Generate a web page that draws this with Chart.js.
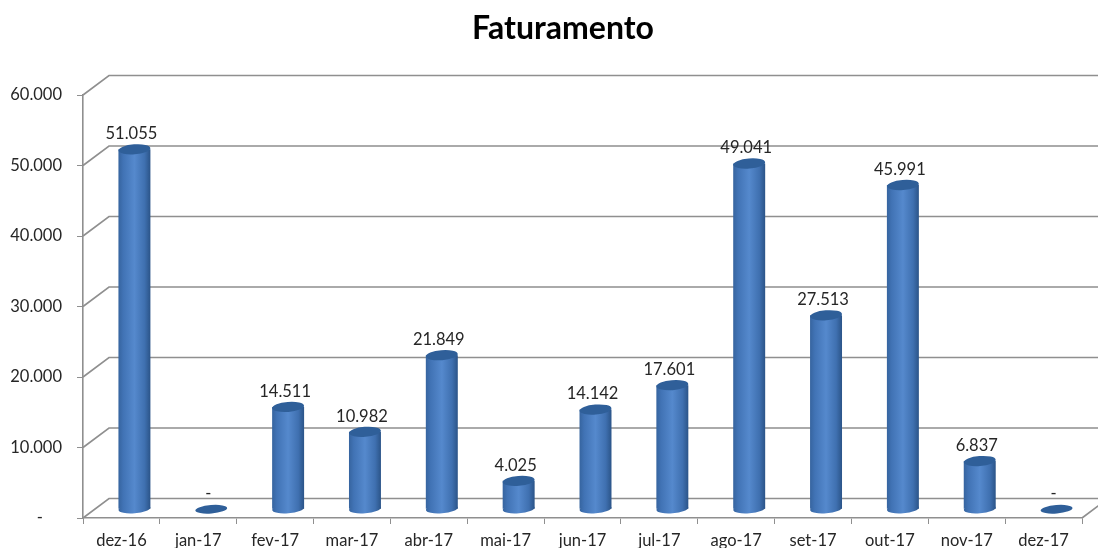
<!DOCTYPE html>
<html>
<head>
<meta charset="utf-8">
<script src="https://cdn.jsdelivr.net/npm/chart.js@4"></script>
<style>html,body{margin:0;padding:0;background:#fff}canvas{display:block}</style>
</head>
<body>
<canvas id="c" width="1098" height="548"></canvas>
<script>
const categories = ['dez-16','jan-17','fev-17','mar-17','abr-17','mai-17','jun-17','jul-17','ago-17','set-17','out-17','nov-17','dez-17'];
const faturamento = [51055,0,14511,10982,21849,4025,14142,17601,49041,27513,45991,6837,0];
const chartTitle = 'Faturamento';
const yMax = 60000, yStep = 10000;

const DEPTH_X = 26, DEPTH_Y = 19.5, BAR_SHIFT_Y = -8.75;
const FONT = 'Lato, "Open Sans", sans-serif';
const fmt = v => v === 0 ? '-' : Math.round(v).toString().replace(/\B(?=(\d{3})+$)/g, '.');

function barGradient(ctx, cx, w) {
  const g = ctx.createLinearGradient(cx - w/2, 0, cx + w/2, 0);
  g.addColorStop(0, '#36649f');
  g.addColorStop(0.15, '#4173b5');
  g.addColorStop(0.5, '#5589cd');
  g.addColorStop(0.82, '#3f70b0');
  g.addColorStop(1, '#2b5488');
  return g;
}

const walls = {
  id: 'walls',
  afterLayout(chart) {
    // the title is centred a little to the right of the canvas middle
    if (chart.titleBlock) chart.titleBlock.left = 44;
  },
  beforeDatasetsDraw(chart) {
    const {ctx, scales:{x, y}, chartArea:a} = chart;
    ctx.save();
    ctx.strokeStyle = '#8f8f8f';
    ctx.lineWidth = 1.6;
    ctx.beginPath();
    for (let v = 0; v <= yMax; v += yStep) {
      const p = y.getPixelForValue(v);
      ctx.moveTo(a.left, p);
      ctx.lineTo(a.left + DEPTH_X, p - DEPTH_Y);
      ctx.lineTo(chart.width + 2, p - DEPTH_Y);
    }
    ctx.moveTo(a.right, a.bottom);
    ctx.lineTo(a.right + DEPTH_X, a.bottom - DEPTH_Y);
    ctx.stroke();
    ctx.restore();
    // bars stand in the middle of the floor's depth
    ctx.save();
    ctx.translate(DEPTH_X/2, BAR_SHIFT_Y);
    const meta = chart.getDatasetMeta(0);
    meta.data.forEach((el, i) => {
      if (faturamento[i] === 0) return;
      const w = el.width;
      ctx.fillStyle = barGradient(ctx, el.x, w);
      ctx.beginPath();
      ctx.ellipse(el.x, el.base, w/2, 4.5, -0.08, 0, Math.PI*2);
      ctx.fill();
    });
    ctx.restore();
    ctx.save();
    ctx.translate(DEPTH_X/2, BAR_SHIFT_Y);
  },
  afterDatasetsDraw(chart) {
    const {ctx} = chart;
    const meta = chart.getDatasetMeta(0);
    meta.data.forEach((el, i) => {
      ctx.fillStyle = '#2f5f99';
      ctx.beginPath();
      ctx.ellipse(el.x, el.y, el.width/2, faturamento[i] === 0 ? 4.2 : 5, -0.08, 0, Math.PI*2);
      ctx.fill();
      ctx.fillStyle = '#262626';
      ctx.font = '16.5px ' + FONT;
      ctx.textAlign = 'center';
      ctx.textBaseline = 'middle';
      ctx.fillText(fmt(faturamento[i]), el.x - 3, el.y - 15.5);
    });
    ctx.restore();
  }
};

new Chart(document.getElementById('c'), {
  type: 'bar',
  data: {
    labels: categories,
    datasets: [{
      data: faturamento,
      barPercentage: 0.416,
      categoryPercentage: 1,
      borderWidth: 0,
      backgroundColor(c) {
        const s = c.chart.scales.x;
        if (!s || c.dataIndex === undefined) return '#4f81bd';
        const cx = s.getPixelForValue(c.dataIndex);
        const w = (s.width / categories.length) * 0.416;
        if (!isFinite(cx) || !isFinite(w) || w <= 0) return '#4f81bd';
        return barGradient(c.chart.ctx, cx, w);
      }
    }]
  },
  options: {
    responsive: false,
    animation: false,
    layout: {padding: {left: 0, right: 16, top: 0, bottom: 0}},
    plugins: {
      legend: {display: false},
      tooltip: {enabled: false},
      title: {
        display: true,
        text: chartTitle,
        color: '#000',
        font: {family: FONT, size: 32, weight: 'bold'},
        padding: {top: 9, bottom: 47.6}
      }
    },
    scales: {
      x: {
        grid: {drawOnChartArea: false, drawTicks: true, tickLength: 6, color: '#8f8f8f', offset: true},
        border: {color: '#8f8f8f', width: 1.6},
        ticks: {color: '#262626', font: {family: FONT, size: 16.5}, padding: 7, maxRotation: 0, autoSkip: false},
        afterFit(s) { s.height = 30; }
      },
      y: {
        min: 0, max: yMax,
        afterFit(s) { s.width = 83; },
        grid: {drawOnChartArea: false, drawTicks: true, tickLength: 6, color: '#8f8f8f'},
        border: {color: '#8f8f8f', width: 1.6},
        ticks: {
          stepSize: yStep, color: '#262626', padding: 15,
          font: {family: FONT, size: 16.5},
          callback: v => v === 0 ? '-\u2007\u2007' : fmt(v)
        }
      }
    }
  },
  plugins: [walls]
});
</script>
</body>
</html>
